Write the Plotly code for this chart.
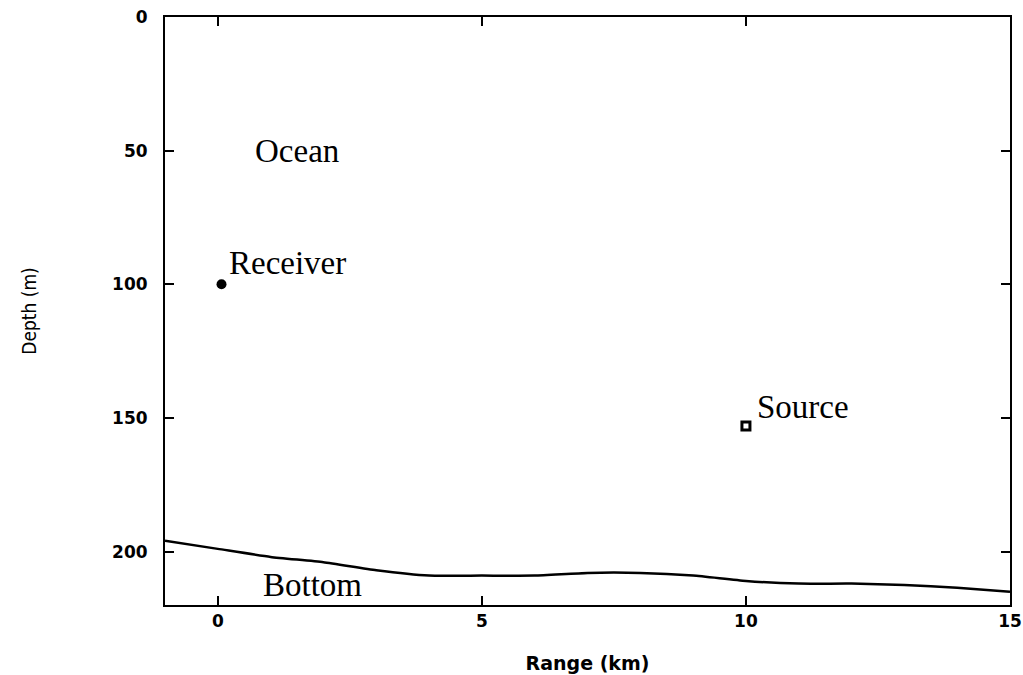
import plotly.graph_objects as go

# Bottom profile (range km, depth m)
bottom_range = [-1, 0, 1, 2, 3, 4, 5, 6, 7, 8, 9, 10, 11, 12, 13, 14, 15]
bottom_depth = [196, 199, 202, 204, 207, 209, 209, 209, 208, 208, 209, 211, 212, 212, 212.5, 213.5, 215]

receiver_range = [0.07]
receiver_depth = [100]
source_range = [10.0]
source_depth = [153]

labels_text = ["Ocean", "Receiver", "Source", "Bottom"]
labels_x = [1.5, 0.17, 10.17, 1.8]
labels_y = [50, 92, 146, 212.5]
labels_anchor = ["center", "left", "left", "center"]

x_ticks = [0, 5, 10, 15]
y_ticks = [0, 50, 100, 150, 200]

fig = go.Figure()
fig.add_trace(go.Scatter(x=bottom_range, y=bottom_depth, mode="lines",
                         line=dict(color="black", width=2.5, shape="spline", smoothing=0.5),
                         showlegend=False, hoverinfo="skip"))
fig.add_trace(go.Scatter(x=receiver_range, y=receiver_depth, mode="markers",
                         marker=dict(symbol="circle", size=10, color="black"),
                         showlegend=False))
fig.add_trace(go.Scatter(x=source_range, y=source_depth, mode="markers",
                         marker=dict(symbol="square-open", size=8, color="black",
                                     line=dict(color="black", width=3)),
                         showlegend=False))

for t, x, y, a in zip(labels_text, labels_x, labels_y, labels_anchor):
    fig.add_annotation(x=x, y=y, text=t, showarrow=False, xanchor=a, yanchor="middle",
                       font=dict(family="Liberation Serif", size=33, color="black"))

axis_common = dict(showgrid=False, zeroline=False, showline=True, linecolor="black",
                   linewidth=2, mirror="ticks", ticks="inside", ticklen=9, tickwidth=2,
                   tickcolor="black", automargin=False, ticklabeloverflow="allow",
                   tickfont=dict(family="DejaVu Sans", size=17, color="black", weight="bold"))

fig.update_xaxes(range=[-1, 15], tickvals=x_ticks, ticktext=[str(v) for v in x_ticks],
                 title=dict(text="Range (km)",
                            font=dict(family="DejaVu Sans", size=19, color="black", weight="bold"),
                            standoff=26),
                 **axis_common)
fig.update_yaxes(range=[220, 0], tickvals=y_ticks, ticktext=[str(v) for v in y_ticks],
                 ticklabelstandoff=12,
                 title=dict(text="Depth (m)",
                            font=dict(family="DejaVu Sans Condensed", size=19, color="black"),
                            standoff=70),
                 **axis_common)

fig.update_layout(width=1023, height=675, margin=dict(l=165, r=13, t=17, b=70),
                  plot_bgcolor="white", paper_bgcolor="white", showlegend=False)

fig.write_html("out.html", config={"displayModeBar": False},
               post_script="document.body.style.margin='0';document.body.style.overflow='hidden';")
